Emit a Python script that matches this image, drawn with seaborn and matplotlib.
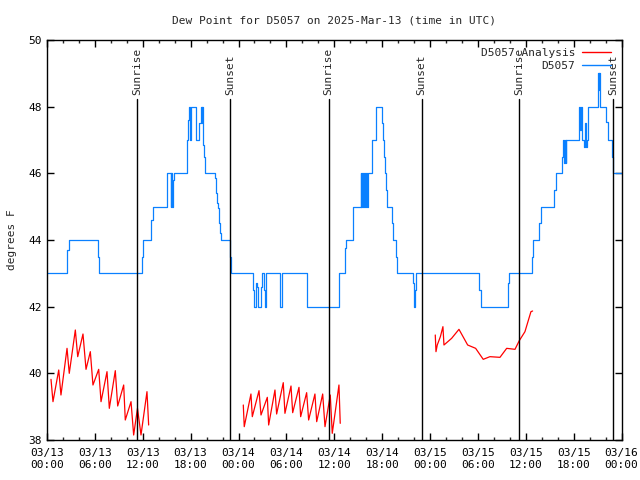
import pandas as pd
import numpy as np
import matplotlib
matplotlib.use("Agg")
import matplotlib.pyplot as plt
import matplotlib.dates as mdates
from matplotlib.lines import Line2D
import seaborn as sns

# =========================
# Data (hours after 2025-03-13 00:00 UTC)
# =========================
start = pd.Timestamp("2025-03-13 00:00")

# observed dew point (step data)
obs_hours = [0.0, 2.55, 2.75, 6.4, 6.5, 11.95, 12.05, 13.0, 13.3, 15.0, 15.5, 15.6, 15.65, 15.8, 15.9,
             17.55, 17.7, 17.85, 17.95, 18.05, 18.65, 19.1, 19.25, 19.4, 19.45, 19.55, 19.7, 19.85,
             21.05, 21.15, 21.3, 21.4, 21.5, 21.6, 21.7, 21.85, 22.95, 23.1,
             25.8, 25.95, 26.15, 26.3, 26.45, 26.85, 27.0, 27.15, 27.3, 27.5, 29.2, 29.45,
             32.62, 36.63, 37.3, 37.4, 37.5, 38.3, 39.3, 39.4, 39.5, 39.6, 39.75, 39.85, 40.0,
             40.1, 40.25, 40.7, 41.25, 41.95, 42.05, 42.2, 42.35, 42.5, 42.6, 43.2, 43.4, 43.7,
             43.85, 45.9, 46.0, 46.15, 46.3, 54.17, 54.35, 57.75, 57.85,
             60.82, 60.95, 61.6, 61.87, 63.6, 63.78, 64.55, 64.7, 64.8, 64.9, 65.0, 65.1, 66.65,
             66.8, 66.9, 67.0, 67.35, 67.45, 67.55, 67.7, 67.8, 69.05, 69.15, 69.2, 69.3, 70.05,
             70.3, 70.75, 70.9, 71.05, 72.0]
obs_vals = [43.0, 43.7, 44.0, 43.5, 43.0, 43.5, 44.0, 44.6, 45.0, 46.0, 45.0, 46.0, 45.0, 45.8, 46.0,
            47.0, 47.6, 48.0, 47.0, 48.0, 47.0, 47.5, 48.0, 47.5, 48.0, 46.85, 46.5, 46.0,
            45.85, 45.4, 45.1, 44.95, 44.8, 44.5, 44.2, 44.0, 43.5, 43.0,
            42.5, 42.0, 42.7, 42.6, 42.0, 42.6, 43.0, 42.5, 42.0, 43.0, 42.0, 43.0,
            42.0, 43.0, 43.3, 43.77, 44.0, 45.0, 46.0, 45.0, 46.0, 45.0, 46.0, 45.0, 46.0,
            45.0, 46.0, 47.0, 48.0, 47.5, 47.0, 46.5, 46.0, 45.5, 45.0, 44.5, 44.0, 43.5,
            43.0, 42.7, 42.0, 42.5, 43.0, 42.5, 42.0, 42.7, 43.0,
            43.5, 44.0, 44.5, 45.0, 45.5, 46.0, 46.5, 47.0, 46.3, 47.0, 46.3, 47.0, 48.0,
            47.3, 48.0, 47.0, 46.8, 47.5, 46.8, 47.0, 48.0, 49.0, 48.5, 49.0, 48.0, 47.55,
            47.0, 46.5, 46.0, 46.0, 46.0]

# analysis (three runs)
ana_hours_1 = [0.50, 0.75, 1.47, 1.75, 2.51, 2.79, 3.55, 3.85, 4.51, 4.89, 5.43, 5.76, 6.48, 6.77,
               7.52, 7.81, 8.56, 8.86, 9.61, 9.81, 10.53, 10.86, 11.34, 11.78, 12.53, 12.74]
ana_vals_1 = [39.82, 39.15, 40.1, 39.35, 40.75, 40.0, 41.3, 40.5, 41.18, 40.12, 40.65, 39.65, 40.12, 39.15,
              40.05, 38.95, 40.08, 39.02, 39.65, 38.6, 39.15, 38.15, 38.95, 38.15, 39.45, 38.45]
ana_hours_2 = [24.60, 24.72, 25.56, 25.73, 26.57, 26.82, 27.61, 27.78, 28.57, 28.78, 29.61, 29.82,
               30.58, 30.79, 31.58, 31.79, 32.54, 32.79, 33.58, 33.80, 34.55, 34.84, 35.50, 35.75,
               36.59, 36.75]
ana_vals_2 = [39.05, 38.4, 39.38, 38.7, 39.48, 38.75, 39.28, 38.45, 39.5, 38.78, 39.72, 38.8,
              39.62, 38.82, 39.58, 38.7, 39.42, 38.6, 39.38, 38.55, 39.38, 38.4, 39.35, 38.2,
              39.65, 38.5]
ana_hours_3 = [48.66, 48.75, 48.91, 49.3, 49.62, 49.75, 50.71, 51.63, 52.72, 53.72, 54.67, 55.51,
               56.77, 57.61, 58.65, 59.19, 59.90, 60.65, 60.86]
ana_vals_3 = [41.15, 40.65, 40.85, 41.1, 41.4, 40.85, 41.05, 41.32, 40.85, 40.75, 40.42, 40.5,
              40.48, 40.75, 40.72, 40.98, 41.25, 41.85, 41.87]

sun_events = ["Sunrise", "Sunset", "Sunrise", "Sunset", "Sunrise", "Sunset"]
sun_hours = [11.25, 22.97, 35.3, 46.95, 59.2, 70.97]

# =========================
# Frames
# =========================
obs_df = pd.DataFrame({"time": start + pd.to_timedelta(obs_hours, unit="h"), "value": obs_vals})

ana_df = pd.concat([
    pd.DataFrame({"time": start + pd.to_timedelta(h, unit="h"), "value": v, "run": i})
    for i, (h, v) in enumerate([(ana_hours_1, ana_vals_1), (ana_hours_2, ana_vals_2), (ana_hours_3, ana_vals_3)])
])

# =========================
# Plot
# =========================
sns.set_style("white")
plt.rcParams["font.family"] = ["DejaVu Sans Mono"]
plt.rcParams["font.size"] = 8

fig = plt.figure(figsize=(6.4, 4.8), dpi=100)
ax = fig.add_axes([47 / 640, 40 / 480, 574.5 / 640, 400 / 480])

blue = "#0a80ff"
red = "#ff0000"

sns.lineplot(data=ana_df, x="time", y="value", units="run", estimator=None, sort=False,
             color=red, lw=0.9, ax=ax, legend=False)
sns.lineplot(data=obs_df, x="time", y="value", estimator=None, sort=False, drawstyle="steps-post",
             color=blue, lw=0.9, ax=ax, legend=False)

for name, h in zip(sun_events, sun_hours):
    t = start + pd.Timedelta(hours=h)
    ax.plot([t, t], [38, 48.23], color="black", lw=1.0)
    ax.text(t, 48.35, name, rotation=90, ha="center", va="bottom", fontsize=8)

ax.set_xlim(start, start + pd.Timedelta(hours=72))
ax.set_ylim(38, 50)
ax.set_yticks(np.arange(38, 51, 2))
ax.xaxis.set_major_locator(mdates.HourLocator(byhour=[0, 6, 12, 18]))
ax.xaxis.set_minor_locator(mdates.HourLocator(interval=2))
ax.xaxis.set_major_formatter(mdates.DateFormatter("%m/%d\n%H:%M"))
ax.tick_params(which="major", direction="in", length=5, width=1, top=True, right=True,
               bottom=True, left=True, labelsize=8, colors="black", pad=6)
ax.tick_params(which="minor", direction="in", length=2.5, width=1, top=True, bottom=True)
ax.tick_params(axis="y", pad=4)
for s in ax.spines.values():
    s.set_color("black")
    s.set_linewidth(1.0)

ax.set_xlabel("")
ax.set_ylabel("degrees F", fontsize=8, labelpad=8)
ax.set_title("Dew Point for D5057 on 2025-Mar-13 (time in UTC)", fontsize=8, pad=12)

handles = [Line2D([], [], color=red, lw=1.0), Line2D([], [], color=blue, lw=1.0)]
ax.legend(handles, ["D5057 Analysis", "D5057"], loc="upper right", bbox_to_anchor=(0.995, 1.0),
          frameon=False, markerfirst=False, handlelength=2.6, handletextpad=0.6,
          labelspacing=0.25, borderaxespad=0.3, fontsize=8)

fig.savefig("out.png", dpi=100)
